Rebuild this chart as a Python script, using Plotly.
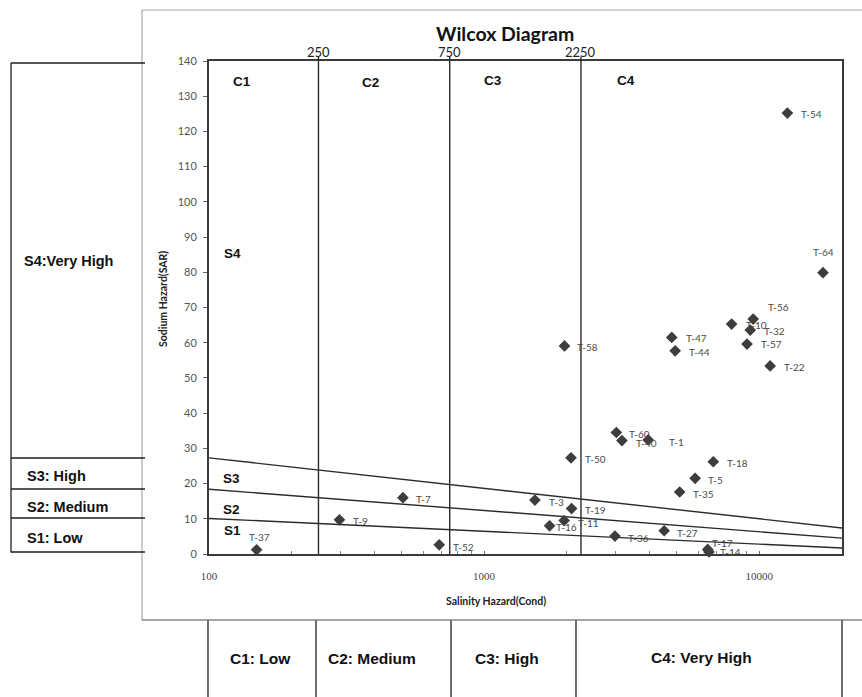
import math
import plotly.graph_objects as go

# ---------------- data ----------------
sample_ids = ["T-54", "T-64", "T-56", "T-10", "T-32", "T-57", "T-22", "T-47", "T-44", "T-58",
              "T-60", "T-40", "T-1", "T-50", "T-18", "T-5", "T-35", "T-3", "T-19", "T-11",
              "T-16", "T-36", "T-27", "T-17", "T-14", "T-7", "T-9", "T-52", "T-37"]
conductivity = [12660, 17060, 9510, 7940, 9280, 9030, 10960, 4810, 4950, 1960,
                3025, 3170, 3950, 2070, 6810, 5850, 5140, 1530, 2080, 1954,
                1730, 2990, 4515, 6500, 6570, 507, 298, 687, 149]
sar = [125.2, 79.9, 66.7, 65.3, 63.6, 59.6, 53.4, 61.5, 57.7, 59.1,
       34.5, 32.2, 32.4, 27.3, 26.2, 21.5, 17.6, 15.3, 12.9, 9.5,
       8.0, 5.1, 6.6, 1.3, 0.6, 16.0, 9.7, 2.6, 1.2]
# label offsets in pixels (dx from marker centre, dy downward), anchor
label_dx = [12, 0, 13, 12, 12, 12, 12, 12, 12, 11,
            11, 12, 19, 12, 12, 11, 11, 12, 11, 12,
            4, 11, 11, 2, 9, 11, 12, 12, 3]
label_dy = [1, -21, -12, 1, 1, 0, 1, 1, 1, 1,
            1, 2, 2, 1, 1, 2, 2, 2, 1, 2,
            1, 2, 2, -6, 0, 1, 1, 2, -13]
label_anchor = ["left", "center", "left", "left", "left", "left", "left", "left", "left", "left",
                "left", "left", "left", "left", "left", "left", "left", "left", "left", "left",
                "left", "left", "left", "left", "left", "left", "left", "left", "center"]

# salinity class boundaries (conductivity) and labels
cond_bounds = [250, 750, 2250]
cond_bound_labels = ["250", "750", "2250"]
# sodium class boundary lines: SAR at x = 100 and x = 20000
line_x = [100, 20000]
s34_line = [27.3, 7.4]
s23_line = [18.4, 4.5]
s12_line = [10.1, 1.7]

x_range = [100, 20000]
y_range = [0, 140]
x_ticks = [100, 1000, 10000]
x_minor = [200, 300, 400, 500, 600, 700, 800, 900,
           2000, 3000, 4000, 5000, 6000, 7000, 8000, 9000]

region_c = ["C1", "C2", "C3", "C4"]
region_s = ["S4", "S3", "S2", "S1"]
left_table = ["S4:Very High", "S3: High", "S2: Medium", "S1: Low"]
bottom_table = ["C1: Low", "C2: Medium", "C3: High", "C4: Very High"]

title = "Wilcox Diagram"
x_title = "Salinity Hazard(Cond)"
y_title = "Sodium Hazard(SAR)"

# ---------------- layout geometry ----------------
W, H = 862, 697
L, R, T, B = 209, 842, 61, 554


def px(xp):
    return (xp - L) / (R - L)


def py(yp):
    return (B - yp) / (B - T)


fig = go.Figure()

LINE_COL = "#2b2b2b"
for yv in (s34_line, s23_line, s12_line):
    fig.add_trace(go.Scatter(x=line_x, y=yv, mode="lines",
                             line=dict(color=LINE_COL, width=1.4),
                             hoverinfo="skip", showlegend=False))
for c in cond_bounds:
    fig.add_trace(go.Scatter(x=[c, c], y=y_range, mode="lines",
                             line=dict(color=LINE_COL, width=1.4),
                             hoverinfo="skip", showlegend=False))

fig.add_trace(go.Scatter(x=conductivity, y=sar, mode="markers",
                         marker=dict(symbol="diamond", size=9, color="#3d3d3d"),
                         text=sample_ids, showlegend=False, cliponaxis=False))

ann = []
LABEL_FONT = dict(family="Lato, Open Sans, sans-serif", size=10, color="#4a4a4a")
for name, xv, yv, dx, dy, anc in zip(sample_ids, conductivity, sar, label_dx, label_dy, label_anchor):
    ann.append(dict(x=math.log10(xv), y=yv, xref="x", yref="y", text=name,
                    showarrow=False, xanchor=anc, yanchor="middle",
                    xshift=dx, yshift=-dy, font=LABEL_FONT))

# top boundary labels
for c, lab in zip(cond_bounds, cond_bound_labels):
    ann.append(dict(x=math.log10(c), y=py(51.5), xref="x", yref="paper", text=lab,
                    showarrow=False, xanchor="center", yanchor="middle",
                    font=dict(family="Lato, sans-serif", size=13, color="#222222")))

BOLD = dict(family="Liberation Sans, Arial, sans-serif", size=13.5, color="#111111")
TAB_FONT_L = dict(family="Liberation Sans, Arial, sans-serif", size=14.5, color="#111111")
TAB_FONT_B = dict(family="Liberation Sans, Arial, sans-serif", size=15.5, color="#111111")
c_pos = [(242, 81), (370, 83), (493, 80), (626, 80)]
for lab, (xp, yp) in zip(region_c, c_pos):
    ann.append(dict(x=px(xp), y=py(yp), xref="paper", yref="paper", text="<b>%s</b>" % lab,
                    showarrow=False, xanchor="center", yanchor="middle", font=BOLD))
s_pos = [(232, 254), (231, 478), (231, 509), (232, 530)]
for lab, (xp, yp) in zip(region_s, s_pos):
    ann.append(dict(x=px(xp), y=py(yp), xref="paper", yref="paper", text="<b>%s</b>" % lab,
                    showarrow=False, xanchor="center", yanchor="middle", font=BOLD))

lt_pos = [(22, 261), (25, 476), (25, 507), (25, 538)]
for lab, (xp, yp) in zip(left_table, lt_pos):
    ann.append(dict(x=px(xp), y=py(yp), xref="paper", yref="paper", text="<b>%s</b>" % lab,
                    showarrow=False, xanchor="left", yanchor="middle", font=TAB_FONT_L))
bt_pos = [(260, 658), (372, 658), (507, 658), (701, 657)]
for lab, (xp, yp) in zip(bottom_table, bt_pos):
    ann.append(dict(x=px(xp), y=py(yp), xref="paper", yref="paper", text="<b>%s</b>" % lab,
                    showarrow=False, xanchor="center", yanchor="middle", font=TAB_FONT_B))

ann.append(dict(x=px(505), y=py(33), xref="paper", yref="paper", text="<b>%s</b>" % title,
                showarrow=False, xanchor="center", yanchor="middle",
                font=dict(family="Lato, sans-serif", size=19.5, color="#111111")))
ann.append(dict(x=px(496), y=py(601), xref="paper", yref="paper", text="<b>%s</b>" % x_title,
                showarrow=False, xanchor="center", yanchor="middle",
                font=dict(family="Lato, sans-serif", size=10.5, color="#222222")))
ann.append(dict(x=px(163), y=py(299), xref="paper", yref="paper", text="<b>%s</b>" % y_title,
                showarrow=False, xanchor="center", yanchor="middle", textangle=-90,
                font=dict(family="Lato, sans-serif", size=10.5, color="#222222")))

shapes = []
# chart area border
shapes.append(dict(type="rect", xref="paper", yref="paper",
                   x0=px(142), x1=px(880), y0=py(620), y1=py(10),
                   line=dict(color="#a8a8a8", width=1.2), layer="below"))
TAB = dict(color="#1e1e1e", width=1.3)
# left table
shapes.append(dict(type="line", xref="paper", yref="paper", x0=px(11), x1=px(11),
                   y0=py(63), y1=py(552.5), line=TAB))
for yp in (63, 458, 489, 518, 552):
    shapes.append(dict(type="line", xref="paper", yref="paper", x0=px(11), x1=px(145),
                       y0=py(yp), y1=py(yp), line=TAB))
# bottom table
for xp in (208, 316, 451, 576, 842):
    shapes.append(dict(type="line", xref="paper", yref="paper", x0=px(xp), x1=px(xp),
                       y0=py(620), y1=py(700), line=TAB))
shapes.append(dict(type="line", xref="paper", yref="paper", x0=px(142), x1=px(880),
                   y0=py(620), y1=py(620), line=dict(color="#7a7a7a", width=1.2)))
# small protrusions of class boundaries above plot frame
for c in cond_bounds:
    shapes.append(dict(type="line", xref="x", yref="paper", x0=c, x1=c,
                       y0=1.0, y1=py(56.5), line=dict(color=LINE_COL, width=1.4)))

fig.update_layout(
    width=W, height=H,
    margin=dict(l=L, r=W - R, t=T, b=H - B),
    paper_bgcolor="white", plot_bgcolor="white",
    showlegend=False,
    annotations=ann, shapes=shapes,
    xaxis=dict(type="log", range=[math.log10(x_range[0]), math.log10(x_range[1])],
               tickvals=x_ticks, ticktext=[str(v) for v in x_ticks],
               ticks="inside", ticklen=3, tickcolor="#666666",
               minor=dict(tickvals=x_minor, ticks="inside", ticklen=3, tickcolor="#888888"),
               showgrid=False, zeroline=False,
               showline=True, mirror=True, linecolor="#3a3a3a", linewidth=2,
               tickfont=dict(family="Liberation Serif, serif", size=11, color="#444444"),
               ticklabelstandoff=11),
    yaxis=dict(range=y_range, dtick=10, tick0=0,
               ticks="outside", ticklen=4, tickcolor="#666666",
               showgrid=False, zeroline=False,
               showline=True, mirror=True, linecolor="#3a3a3a", linewidth=2,
               tickfont=dict(family="Lato, sans-serif", size=11, color="#555555"),
               ticklabelstandoff=4),
)

fig.write_html("out.html")
